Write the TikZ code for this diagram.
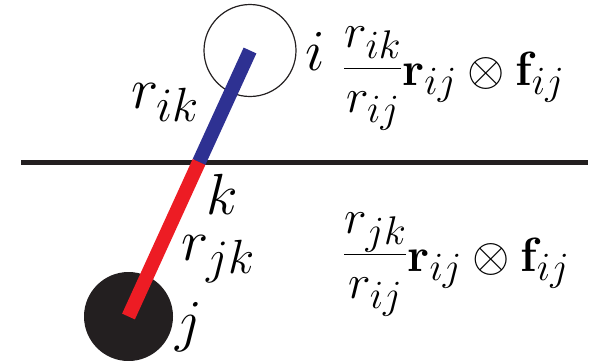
\RequirePackage{fix-cm}
\documentclass[tikz,border=0pt]{standalone}
\DeclareMathSizes{48}{48}{40}{33}
\DeclareMathSizes{58}{58}{48}{40}
\definecolor{inkblack}{RGB}{35,31,32}
\definecolor{barblue}{RGB}{46,49,146}
\definecolor{barred}{RGB}{237,28,36}
\tikzset{
  bigl/.style={font=\fontsize{58}{60}\selectfont, inner sep=0pt},
  forml/.style={font=\fontsize{48}{50}\selectfont, inner sep=0pt},
  bar/.style={line width=14pt, line cap=butt},
}
\begin{document}
\begin{tikzpicture}[x=1pt,y=-1pt]
\useasboundingbox (0,0) rectangle (596,360);
% plane
\coordinate (pl) at (21,162);
\coordinate (pr) at (588,162);
\draw[inkblack, line width=5pt] (pl) -- (pr);
% atoms
\node[circle, draw=inkblack, line width=1.2pt, minimum size=92pt, inner sep=0pt] (i) at (250,50.5) {};
\node[circle, fill=inkblack, minimum size=89pt, inner sep=0pt] (j) at (128.5,316.5) {};
\coordinate (k) at (199,162);
% bond
\draw[bar, barblue] (i.center) -- (k);
\draw[bar, barred] (k) -- (j.center);
% labels
\node[bigl, anchor=base] (li) at (315,70) {$i$};
\node[bigl, anchor=base] (lk) at (222,214) {$k$};
\node[bigl, anchor=base] (lj) at (189,340) {$j$};
\node[bigl, anchor=base west] (lrik) at (131,108) {$r_{ik}$};
\node[bigl, anchor=base west] (lrjk) at (181,260) {$r_{jk}$};
% formulas
\node[forml, anchor=base west] (f1) at (343,85) {$\raisebox{5pt}{$\displaystyle\frac{r_{ik}}{r_{ij}}$}\mathbf{r}_{ij}\otimes\mathbf{f}_{ij}$};
\node[forml, anchor=base west] (f2) at (343,271) {$\raisebox{5pt}{$\displaystyle\frac{r_{jk}}{r_{ij}}$}\mathbf{r}_{ij}\otimes\mathbf{f}_{ij}$};
\end{tikzpicture}
\end{document}
